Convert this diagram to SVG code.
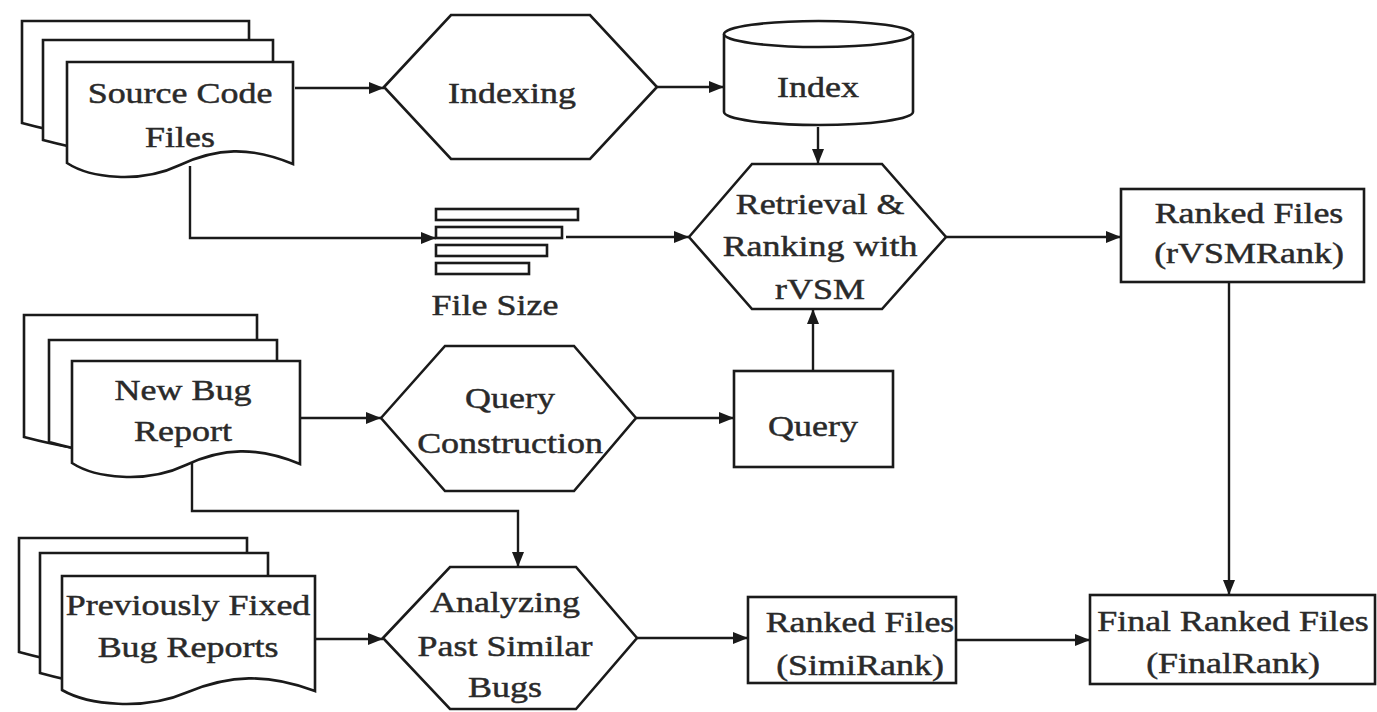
<svg xmlns="http://www.w3.org/2000/svg" width="1377" height="712" viewBox="0 0 1377 712">
  <style>
    .shape { fill: #ffffff; stroke: #1a1a1a; stroke-width: 2.6; stroke-linejoin: miter; }
    .bar { fill: #ffffff; stroke: #1a1a1a; stroke-width: 2.6; }
    .wire { fill: none; stroke: #1a1a1a; stroke-width: 2.4; marker-end: url(#arrow); }
    .lbl { font-family: "Liberation Serif", "Times New Roman", serif; font-size: 29px; fill: #2a2a2a; stroke: #2a2a2a; stroke-width: 0.45; text-anchor: middle; }
  </style>
  <defs>
    <marker id="arrow" markerUnits="userSpaceOnUse" markerWidth="16" markerHeight="13" refX="15" refY="6.5" orient="auto">
      <path d="M0,0.5 L15,6.5 L0,12.5 Z" fill="#1a1a1a"/>
    </marker>
  </defs>

  <rect width="1377" height="712" fill="#ffffff"/>

  <!-- connectors -->
  <g id="connectors">
    <line class="wire" x1="295" y1="88" x2="384" y2="88"/>
    <line class="wire" x1="657" y1="87" x2="724" y2="87"/>
    <line class="wire" x1="818" y1="127" x2="818" y2="164"/>
    <polyline class="wire" points="190,166 190,238 436,238"/>
    <line class="wire" x1="566" y1="237" x2="689" y2="237"/>
    <line class="wire" x1="946" y1="237" x2="1121" y2="237"/>
    <line class="wire" x1="1229" y1="282" x2="1229" y2="595"/>
    <line class="wire" x1="300" y1="418" x2="381" y2="418"/>
    <line class="wire" x1="636" y1="418" x2="734" y2="418"/>
    <line class="wire" x1="813" y1="371" x2="813" y2="309"/>
    <polyline class="wire" points="192,458 192,511 518,511 518,567"/>
    <line class="wire" x1="315" y1="639" x2="383" y2="639"/>
    <line class="wire" x1="637" y1="638" x2="748" y2="638"/>
    <line class="wire" x1="956" y1="640" x2="1090" y2="640"/>
  </g>

  <!-- source code files: stack of three document sheets -->
  <g id="source-code-files">
    <path class="shape" d="M22,123 V21 H249 V124 C226,107 192,109 158,125 C136,144 89,141 22,123 Z"/>
    <path class="shape" d="M43,140 V40 H273 V141 C250,123 216,125 181,142 C159,161 111,158 43,140 Z"/>
    <path class="shape" d="M67,163 V62 H293 V164 C250,146 216,148 180,165 C140,184 90,178 67,163 Z"/>
    <text class="lbl" transform="translate(180 0) scale(1.24 1)"><tspan x="0" y="103">Source Code</tspan><tspan x="0" y="147">Files</tspan></text>
  </g>

  <g id="indexing">
    <path class="shape" d="M384,87 L451,15 L590,15 L657,87 L590,159 L451,159 Z"/>
    <text class="lbl" transform="translate(512 0) scale(1.24 1)" y="103">Indexing</text>
  </g>

  <g id="index">
    <path class="shape" d="M724,34 V112 A94.5,13 0 0 0 913,112 V34"/>
    <ellipse class="shape" cx="818.5" cy="34" rx="94.5" ry="13"/>
    <text class="lbl" transform="translate(818 0) scale(1.24 1)" y="97">Index</text>
  </g>

  <g id="file-size">
    <rect class="bar" x="436" y="209" width="142" height="11"/>
    <rect class="bar" x="436" y="227" width="126" height="11"/>
    <rect class="bar" x="436" y="245" width="111" height="11"/>
    <rect class="bar" x="436" y="263" width="93" height="11"/>
    <text class="lbl" transform="translate(495 0) scale(1.24 1)" y="315">File Size</text>
  </g>

  <g id="retrieval-ranking">
    <path class="shape" d="M689,237 L752,164 L882,164 L946,237 L882,309 L752,309 Z"/>
    <text class="lbl" transform="translate(820 0) scale(1.24 1)"><tspan x="0" y="214">Retrieval &amp;</tspan><tspan x="0" y="256">Ranking with</tspan><tspan x="0" y="299">rVSM</tspan></text>
  </g>

  <g id="ranked-rvsm">
    <rect class="shape" x="1121" y="189" width="243" height="93"/>
    <text class="lbl" transform="translate(1249 0) scale(1.24 1)"><tspan x="0" y="223">Ranked Files</tspan><tspan x="0" y="263">(rVSMRank)</tspan></text>
  </g>

  <!-- new bug report: stack of three document sheets -->
  <g id="new-bug-report">
    <path class="shape" d="M24,437 V315 H257 V438 C234,421 199,423 164,439 C141,458 93,455 24,437 Z"/>
    <path class="shape" d="M49,442 V340 H277 V443 C254,425 220,427 185,444 C162,463 114,460 49,442 Z"/>
    <path class="shape" d="M72,463 V361 H300 V464 C257,446 222,448 186,465 C146,484 95,478 72,463 Z"/>
    <text class="lbl" transform="translate(183 0) scale(1.24 1)"><tspan x="0" y="400">New Bug</tspan><tspan x="0" y="441">Report</tspan></text>
  </g>

  <g id="query-construction">
    <path class="shape" d="M381,418 L445,346 L574,346 L636,418 L574,491 L445,491 Z"/>
    <text class="lbl" transform="translate(510 0) scale(1.24 1)"><tspan x="0" y="408">Query</tspan><tspan x="0" y="453">Construction</tspan></text>
  </g>

  <g id="query">
    <rect class="shape" x="734" y="371" width="159" height="96"/>
    <text class="lbl" transform="translate(813 0) scale(1.24 1)" y="436">Query</text>
  </g>

  <!-- previously fixed bug reports: stack of three document sheets -->
  <g id="previously-fixed">
    <path class="shape" d="M19,652 V538 H247 V653 C224,636 190,638 155,654 C133,673 85,670 19,652 Z"/>
    <path class="shape" d="M40,673 V553 H268 V674 C245,656 211,658 176,675 C154,694 106,691 40,673 Z"/>
    <path class="shape" d="M62,690 V576 H315 V691 C267,673 229,675 188,692 C144,711 88,705 62,690 Z"/>
    <text class="lbl" transform="translate(188 0) scale(1.24 1)"><tspan x="0" y="615">Previously Fixed</tspan><tspan x="0" y="657">Bug Reports</tspan></text>
  </g>

  <g id="analyzing-past">
    <path class="shape" d="M383,638 L450,567 L576,567 L637,638 L576,709 L450,709 Z"/>
    <text class="lbl" transform="translate(505 0) scale(1.24 1)"><tspan x="0" y="612">Analyzing</tspan><tspan x="0" y="656">Past Similar</tspan><tspan x="0" y="697">Bugs</tspan></text>
  </g>

  <g id="ranked-simi">
    <rect class="shape" x="748" y="597" width="208" height="86"/>
    <text class="lbl" transform="translate(860 0) scale(1.24 1)"><tspan x="0" y="632">Ranked Files</tspan><tspan x="0" y="675">(SimiRank)</tspan></text>
  </g>

  <g id="final-ranked">
    <rect class="shape" x="1090" y="595" width="285" height="89"/>
    <text class="lbl" transform="translate(1233 0) scale(1.24 1)"><tspan x="0" y="631">Final Ranked Files</tspan><tspan x="0" y="673">(FinalRank)</tspan></text>
  </g>
</svg>
